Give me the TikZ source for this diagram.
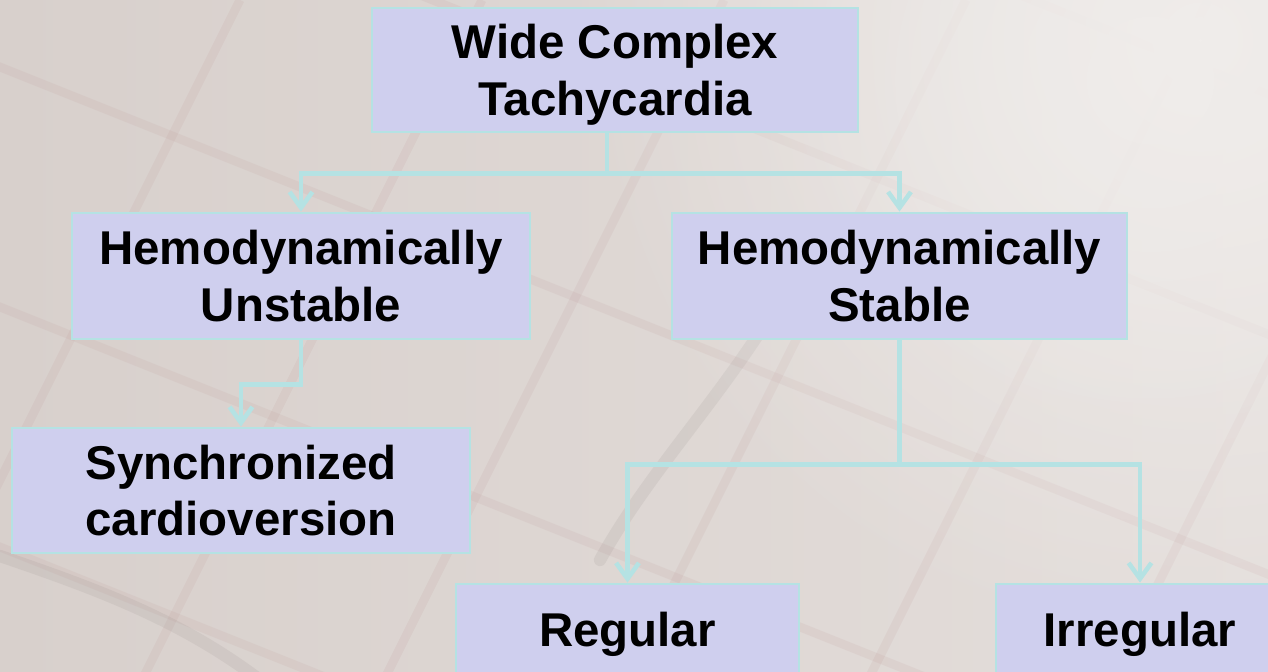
\documentclass[tikz,border=0pt]{standalone}
\usepackage{fontspec}
\setmainfont{Liberation Sans}
\usetikzlibrary{arrows.meta,fadings}
\definecolor{boxfill}{RGB}{207,207,238}
\definecolor{conncol}{RGB}{181,226,227}
\definecolor{bgbase}{RGB}{216,208,204}
\definecolor{bgmid}{RGB}{228,222,219}
\definecolor{bglight}{RGB}{240,237,235}
\definecolor{gridcol}{RGB}{190,150,150}
\definecolor{tracecol}{RGB}{150,140,138}
\tikzfading[name=softglow, inner color=transparent!0, outer color=transparent!100]
\newcommand{\lnA}{\rule{0pt}{0.966em}}
\newcommand{\lnB}{\rule[-0.25em]{0pt}{0.25em}}
\tikzset{
  box/.style={draw=conncol, line width=1.6pt, fill=boxfill, inner sep=0pt,
    font=\fontsize{27}{31.9}\selectfont\bfseries, align=center, text=black},
  conn/.style={draw=conncol, line width=2.6pt,
    -{Straight Barb[length=9pt,width=13pt]}},
  gridline/.style={draw=gridcol, line width=5pt, opacity=0.13},
  trace/.style={draw=tracecol, line width=7pt, opacity=0.14, line cap=round}
}
\begin{document}
\begin{tikzpicture}[x=0.02cm, y=-0.02cm]
\useasboundingbox (0,0) rectangle (1268,672);
\clip (0,0) rectangle (1268,672);
% background
\shade[left color=bgbase, right color=bgmid] (0,0) rectangle (1268,672);
\foreach \c in {-653,-413,-173,67,307,547,787} {
  \draw[gridline] (-100,{\c-40}) -- (1400,{\c+0.4*1400});
}
\foreach \x in {240,482,724,966,1208,1450,1692} {
  \draw[gridline] (\x,0) -- ({\x-0.5*700},700);
}
\draw[trace] (0,556) .. controls (100,590) and (180,620) .. (260,680);
\draw[trace] (780,300) .. controls (720,400) and (650,470) .. (600,560);
\fill[bglight, path fading=softglow, fit fading=true]
  (1200,40) circle [radius=620];
\fill[bglight, opacity=0.6, path fading=softglow, fit fading=true]
  (1150,80) circle [radius=380];
% nodes
\node[box, minimum width=9.72cm, minimum height=2.48cm] (top) at (615,70)
  {\lnA Wide Complex\\Tachycardia\lnB};
\node[box, minimum width=9.16cm, minimum height=2.52cm] (hu) at (301,276)
  {\lnA Hemodynamically\\Unstable\lnB};
\node[box, minimum width=9.10cm, minimum height=2.52cm] (hs) at (899.5,276)
  {\lnA Hemodynamically\\Stable\lnB};
\node[box, minimum width=9.16cm, minimum height=2.50cm] (sc) at (241,490.5)
  {\lnA Synchronized\\cardioversion\lnB};
\node[box, minimum width=6.86cm, minimum height=1.84cm] (reg) at (627.5,630)
  {\lnA Regular\lnB};
\node[box, minimum width=5.76cm, minimum height=1.84cm] (irr) at (1140,630)
  {\lnA Irregular\lnB};
% connectors
\draw[conn] ([xshift=-0.16cm]top.south) -- ++(0,40) -| (hu.north);
\draw[conn] ([xshift=-0.16cm]top.south) -- ++(0,40) -| (hs.north);
\draw[conn] (hu.south) -- ++(0,44) -| (sc.north);
\draw[conn] (hs.south) -- ++(0,124) -| (reg.north);
\draw[conn] (hs.south) -- ++(0,124) -| (irr.north);
\end{tikzpicture}
\end{document}
